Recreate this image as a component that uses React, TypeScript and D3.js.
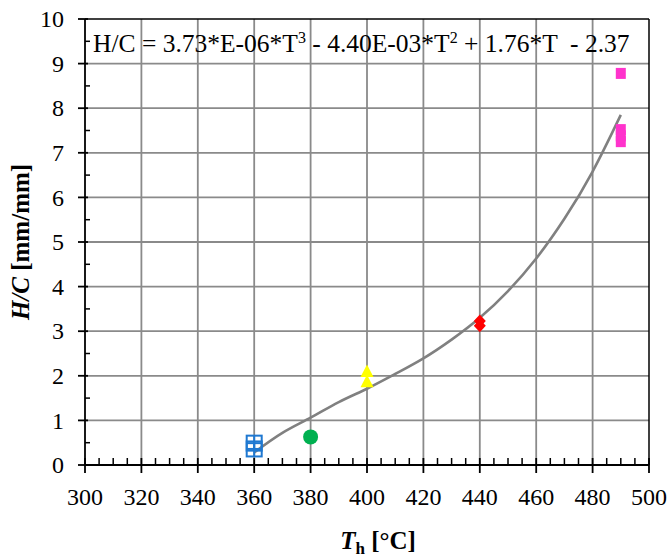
import React from "react";
import * as d3 from "d3";

// Measured heating temperatures and H/C ratios, one array pair per marker group
const blueT = [360, 360];
const blueHC = [0.49, 0.36];
const greenT = [380];
const greenHC = [0.63];
const yellowT = [400, 400];
const yellowHC = [2.11, 1.88];
const redT = [440, 440];
const redHC = [3.23, 3.12];
const pinkT = [490, 490, 490, 490];
const pinkHC = [8.78, 7.52, 7.38, 7.25];

// Polynomial trend line, sampled along its course
const trendT = [360, 370, 380, 390, 400, 410, 420, 430, 440, 450, 460, 470, 480, 490];
const trendHC = [0.28, 0.72, 1.06, 1.41, 1.71, 2.04, 2.39, 2.81, 3.3, 3.9, 4.63, 5.52, 6.58, 7.85];

const xTicks = [300, 320, 340, 360, 380, 400, 420, 440, 460, 480, 500];
const yTicks = [0, 1, 2, 3, 4, 5, 6, 7, 8, 9, 10];

const W = 672;
const H = 557;
const left = 85;
const right = 649;
const top = 19;
const bottom = 465;

const FONT = "'Liberation Serif', 'Times New Roman', serif";

export default function App() {
  const x = d3.scaleLinear().domain([300, 500]).range([left, right]);
  const y = d3.scaleLinear().domain([0, 10]).range([bottom, top]);

  const minorX = d3.range(305, 500, 5).filter((v) => v % 20 !== 0);
  const minorY = d3.range(0.5, 10, 1);

  const line = d3
    .line<number>()
    .x((_, i) => x(trendT[i]))
    .y((d) => y(d))
    .curve(d3.curveNatural);

  const gridColor = "#8a8a8a";

  return (
    <svg
      width={W}
      height={H}
      style={{ position: "absolute", left: 0, top: 0, background: "#fff" }}
      fontFamily={FONT}
    >
      {/* grid */}
      {xTicks.slice(1, -1).map((t) => (
        <line key={"gx" + t} x1={x(t)} x2={x(t)} y1={top} y2={bottom} stroke={gridColor} strokeWidth={1.8} />
      ))}
      {yTicks.slice(1, -1).map((t) => (
        <line key={"gy" + t} x1={left} x2={right} y1={y(t)} y2={y(t)} stroke={gridColor} strokeWidth={1.8} />
      ))}

      {/* frame */}
      <line x1={left} x2={right} y1={top} y2={top} stroke="#000" strokeWidth={1.5} />
      <line x1={right} x2={right} y1={top} y2={bottom} stroke="#000" strokeWidth={1.5} />
      <line x1={left} x2={left} y1={top} y2={bottom} stroke="#000" strokeWidth={1.8} />
      <line x1={left} x2={right} y1={bottom} y2={bottom} stroke="#000" strokeWidth={1.8} />

      {/* ticks */}
      {xTicks.map((t) => (
        <line key={"tx" + t} x1={x(t)} x2={x(t)} y1={bottom - 7} y2={bottom + 8} stroke="#000" strokeWidth={1.8} />
      ))}
      {minorX.map((t) => (
        <line key={"mx" + t} x1={x(t)} x2={x(t)} y1={bottom - 7} y2={bottom} stroke="#000" strokeWidth={1.5} />
      ))}
      {yTicks.map((t) => (
        <line key={"ty" + t} x1={left - 7} x2={left + 3} y1={y(t)} y2={y(t)} stroke="#000" strokeWidth={1.8} />
      ))}
      {minorY.map((t) => (
        <line key={"my" + t} x1={left} x2={left + 5} y1={y(t)} y2={y(t)} stroke="#000" strokeWidth={1.5} />
      ))}

      {/* tick labels */}
      {xTicks.map((t) => (
        <text key={"lx" + t} x={x(t)} y={505} fontSize={24} textAnchor="middle" fill="#000">
          {t}
        </text>
      ))}
      {yTicks.map((t) => (
        <text key={"ly" + t} x={64} y={y(t)} dy="0.34em" fontSize={24} textAnchor="end" fill="#000">
          {t}
        </text>
      ))}

      {/* axis titles */}
      <text x={378} y={549} fontSize={25} fontWeight="bold" textAnchor="middle" fill="#000">
        <tspan fontStyle="italic">T</tspan>
        <tspan fontSize={17} dy={5}>h</tspan>
        <tspan dy={-5}> [°C]</tspan>
      </text>
      <text
        transform={`translate(29,${(top + bottom) / 2}) rotate(-90)`}
        fontSize={25}
        fontWeight="bold"
        textAnchor="middle"
        fill="#000"
      >
        <tspan fontStyle="italic">H/C</tspan>
        <tspan> [mm/mm]</tspan>
      </text>

      {/* trend equation */}
      <text x={93} y={52} fontSize={25.5} fill="#000">
        <tspan>H/C = 3.73*E-06*T</tspan>
        <tspan fontSize={16} dy={-9}>3</tspan>
        <tspan dy={9}> - 4.40E-03*T</tspan>
        <tspan fontSize={16} dy={-9}>2</tspan>
        <tspan dy={9} style={{ whiteSpace: "pre" }}>{" + 1.76*T  - 2.37"}</tspan>
      </text>

      {/* trend line */}
      <path d={line(trendHC) ?? ""} fill="none" stroke="#808080" strokeWidth={2.6} />

      {/* markers */}
      {blueT.map((t, i) => {
        const cx = x(t);
        const cy = y(blueHC[i]);
        const s = 7.5;
        return (
          <g key={"b" + i} stroke="#1f78d1" strokeWidth={2} fill="none">
            <rect x={cx - s} y={cy - s} width={2 * s} height={2 * s} />
            <line x1={cx - s} x2={cx + s} y1={cy} y2={cy} />
            <line x1={cx} x2={cx} y1={cy - s} y2={cy + s} />
          </g>
        );
      })}
      {greenT.map((t, i) => (
        <circle key={"g" + i} cx={x(t)} cy={y(greenHC[i])} r={7.5} fill="#00b050" />
      ))}
      {yellowT.map((t, i) => {
        const cx = x(t);
        const cy = y(yellowHC[i]);
        return (
          <path
            key={"yl" + i}
            d={`M${cx},${cy - 6.5} L${cx + 6.5},${cy + 6} L${cx - 6.5},${cy + 6} Z`}
            fill="#ffff00"
          />
        );
      })}
      {redT.map((t, i) => {
        const cx = x(t);
        const cy = y(redHC[i]);
        return (
          <path
            key={"r" + i}
            d={`M${cx},${cy - 6.5} L${cx + 6},${cy} L${cx},${cy + 6.5} L${cx - 6},${cy} Z`}
            fill="#ff0000"
          />
        );
      })}
      {pinkT.map((t, i) => (
        <rect key={"p" + i} x={x(t) - 5} y={y(pinkHC[i]) - 5.5} width={10} height={11} fill="#ff33cc" />
      ))}
    </svg>
  );
}
